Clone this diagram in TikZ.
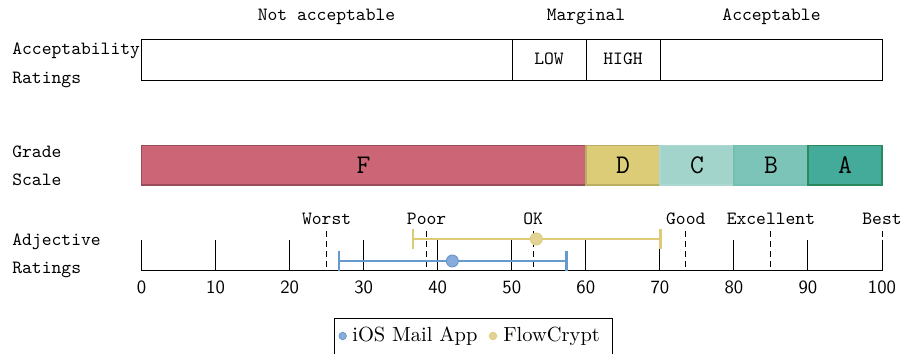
\documentclass[tikz,border=0pt]{standalone}
\usepackage{fontspec}
\definecolor{rosec}{HTML}{CC6677}
\definecolor{sandc}{HTML}{DDCC77}
\definecolor{tealc}{HTML}{44AA99}
\definecolor{greenedge}{HTML}{2A8A5E}
\definecolor{skyc}{HTML}{6699CC}
\definecolor{skyfill}{HTML}{88AADD}
\definecolor{sandfill}{HTML}{E3D496}
\tikzset{
  lab/.style={font=\fontsize{10}{12}\selectfont\ttfamily, inner sep=0pt, anchor=base},
  sidelab/.style={lab, anchor=base west},
  gradelab/.style={font=\fontsize{14.4}{16}\selectfont\ttfamily, inner sep=0pt, anchor=base},
  ticklab/.style={font=\fontsize{10}{12}\selectfont\sffamily, inner sep=0pt, anchor=base},
  frame/.style={draw=black, line width=0.5pt},
  seg/.style={line width=0.6pt},
  tickline/.style={line width=0.5pt},
  adjline/.style={line width=0.5pt, dash pattern=on 3.2pt off 2.2pt},
  errbar/.style={line width=1.15pt},
  meanmark/.style={circle, inner sep=0pt, minimum size=6.4pt, line width=0.5pt},
  legdot/.style={circle, inner sep=0pt, minimum size=4pt, line width=0.4pt},
  legtext/.style={font=\fontsize{10.95}{13}\selectfont\rmfamily, inner sep=0pt, anchor=base west}
}
\begin{document}
\begin{tikzpicture}[x=0.535pt, y=-0.535pt]
\useasboundingbox (0,0) rectangle (903,353);

% ---- acceptability ratings ----
\node[lab] (notacc) at (326.5,21) {Not acceptable};
\node[lab] (marg) at (586,21) {Marginal};
\node[lab] (acc) at (771.5,21) {Acceptable};
\node[sidelab] (accA) at (12,55) {Acceptability};
\node[sidelab] (accB) at (12,84) {Ratings};
\draw[frame] (141.5,39.5) rectangle (882,80);
\draw[frame] (512,39.5) -- (512,80);
\draw[frame] (586,39.5) -- (586,80);
\draw[frame] (660,39.5) -- (660,80);
\node[lab] (low) at (549,65) {LOW};
\node[lab] (high) at (623,65) {HIGH};

% ---- grade scale ----
\node[sidelab] (grA) at (12,157) {Grade};
\node[sidelab] (grB) at (12,185.5) {Scale};
\filldraw[seg, fill=rosec, draw=rosec!75!black] (141.5,145.5) rectangle (586,185);
\filldraw[seg, fill=sandc, draw=sandc!85!black] (586,145.5) rectangle (660,185);
\filldraw[seg, fill=tealc!50, draw=tealc!45] (660,145.5) rectangle (734,185);
\filldraw[seg, fill=tealc!70, draw=tealc!75] (734,145.5) rectangle (808,185);
\filldraw[seg, fill=tealc, draw=greenedge] (808,145.5) rectangle (882,185);
\node[gradelab] (gF) at (363.5,173.5) {F};
\node[gradelab] (gD) at (623,173.5) {D};
\node[gradelab] (gC) at (697,173.5) {C};
\node[gradelab] (gB) at (771,173.5) {B};
\node[gradelab] (gA) at (845,173.5) {A};

% ---- adjective ratings axis ----
\node[sidelab] (adjA) at (12,245) {Adjective};
\node[sidelab] (adjB) at (12,273) {Ratings};
\coordinate (ax0) at (141.5,270.5);
\coordinate (ax1) at (882,270.5);
\foreach \v in {0,10,...,100} {
  \coordinate (t\v) at ({141.5+7.405*\v},239.5);
  \coordinate (b\v) at ({141.5+7.405*\v},270.5);
  \draw[tickline] (t\v) -- (b\v);
  \node[ticklab] (n\v) at ({141.5+7.405*\v},293) {\v};
}
\draw[tickline] (ax0) -- (ax1);

% adjective anchors (dashed)
\foreach \name/\v in {Worst/25, Poor/38.5, OK/52.9, Good/73.5, Excellent/85, Best/100} {
  \coordinate (d\name top) at ({141.5+7.405*\v},231);
  \coordinate (d\name bot) at ({141.5+7.405*\v},270.5);
  \draw[adjline] (d\name top) -- (d\name bot);
  \node[lab] (l\name) at ({141.5+7.405*\v},224) {\name};
}

% ---- error bars ----
% FlowCrypt
\coordinate (fcL) at (412.7,239);
\coordinate (fcR) at (660.5,239);
\draw[errbar, sandc] (fcL) -- (fcR);
\draw[errbar, sandc] ([yshift=5.35pt]fcL) -- ([yshift=-5.35pt]fcL);
\draw[errbar, sandc] ([yshift=5.35pt]fcR) -- ([yshift=-5.35pt]fcR);
\node[meanmark, fill=sandfill, draw=sandc] (fcmean) at (536.3,239) {};
% iOS Mail App
\coordinate (ioL) at (339,261);
\coordinate (ioR) at (566.5,261);
\draw[errbar, skyc] (ioL) -- (ioR);
\draw[errbar, skyc] ([yshift=5.35pt]ioL) -- ([yshift=-5.35pt]ioL);
\draw[errbar, skyc] ([yshift=5.35pt]ioR) -- ([yshift=-5.35pt]ioR);
\node[meanmark, fill=skyfill, draw=skyc] (iomean) at (452.3,261) {};

% ---- legend ----
\draw[line width=0.5pt] (334,370) -- (334,318) -- (612,318) -- (612,370);
\node[legdot, fill=skyfill, draw=skyc] (legio) at (342.7,336) {};
\node[legtext] (legiot) at (352,341) {iOS Mail App};
\node[legdot, fill=sandfill, draw=sandc] (legfc) at (493,336) {};
\node[legtext] (legfct) at (503,341) {FlowCrypt};
\end{tikzpicture}
\end{document}
